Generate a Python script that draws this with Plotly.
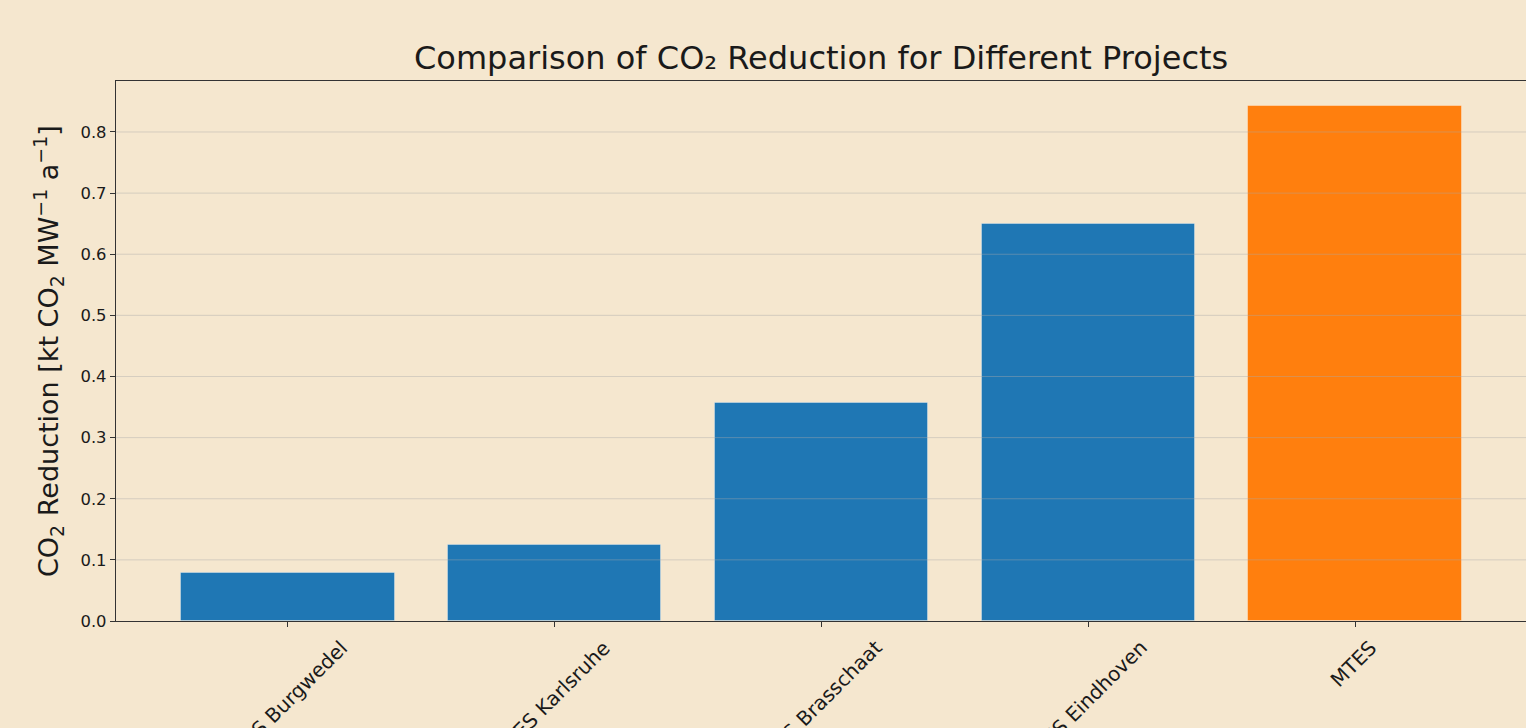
import plotly.graph_objects as go

projects = ["ATES Burgwedel", "ATES Karlsruhe", "ATES Brasschaat", "ATES Eindhoven", "MTES"]
co2_reduction = [0.0785, 0.124, 0.357, 0.650, 0.842]
bar_colors = ["#1f77b4", "#1f77b4", "#1f77b4", "#1f77b4", "#ff7f0e"]
y_ticks = [0.0, 0.1, 0.2, 0.3, 0.4, 0.5, 0.6, 0.7, 0.8]
y_tick_labels = ["0.0", "0.1", "0.2", "0.3", "0.4", "0.5", "0.6", "0.7", "0.8"]

BG = "#F5E7CF"
FONT = "DejaVu Sans"
x_pos = list(range(len(projects)))

fig = go.Figure()
fig.add_trace(go.Bar(
    x=x_pos, y=co2_reduction, width=0.8,
    marker=dict(color=bar_colors, line=dict(color="rgba(255,255,255,0.35)", width=1)),
    hoverinfo="skip",
))

# grid lines drawn above bars (as in reference)
for v in y_ticks[1:]:
    fig.add_shape(type="line", xref="paper", x0=0, x1=1, yref="y", y0=v, y1=v,
                  line=dict(color="rgba(170,170,170,0.42)", width=1), layer="above")

# rotated x tick labels (top of rotated box aligned just under the ticks)
for xp, name in zip(x_pos, projects):
    fig.add_annotation(x=xp, y=0, xref="x", yref="y", text=name, showarrow=False,
                       textangle=-45, xanchor="center", yanchor="top", yshift=-12,
                       xshift=-2,
                       font=dict(family=FONT, size=20, color="#1a1a1a"))

# y axis title
fig.add_annotation(xref="paper", yref="paper", x=0, y=0.5, xshift=-68,
                   text="CO<sub>2</sub> Reduction [kt CO<sub>2</sub> MW<sup>−1</sup> a<sup>−1</sup>]",
                   showarrow=False, textangle=-90, xanchor="center", yanchor="middle",
                   font=dict(family=FONT, size=27, color="#1a1a1a"))

# title
fig.add_annotation(xref="paper", yref="paper", x=0.5, y=1, yshift=2,
                   text="Comparison of CO₂ Reduction for Different Projects",
                   showarrow=False, xanchor="center", yanchor="bottom",
                   font=dict(family=FONT, size=32, color="#1a1a1a"))

fig.update_layout(
    width=1526, height=728,
    margin=dict(l=116, r=0, t=81, b=107, autoexpand=False),
    paper_bgcolor=BG, plot_bgcolor=BG,
    showlegend=False,
    font=dict(family=FONT, color="#1a1a1a"),
    bargap=0,
)
fig.update_xaxes(range=[-0.644, 4.64], tickvals=x_pos, showticklabels=False,
                 ticks="outside", ticklen=5, tickwidth=1.2, tickcolor="#333333",
                 showline=True, linecolor="#333333", linewidth=1.3, mirror=True,
                 showgrid=False, zeroline=False, fixedrange=True)
fig.update_yaxes(range=[0, 0.8834], tickvals=y_ticks, ticktext=y_tick_labels,
                 ticks="outside", ticklen=5, tickwidth=1.2, tickcolor="#333333",
                 tickfont=dict(family=FONT, size=16.4, color="#1a1a1a"),
                 showline=True, linecolor="#333333", linewidth=1.3, mirror=False,
                 showgrid=False, zeroline=False, fixedrange=True)

fig.write_html("out.html", config={"displayModeBar": False},
               post_script="document.body.style.margin='0';document.body.style.overflow='hidden';")
